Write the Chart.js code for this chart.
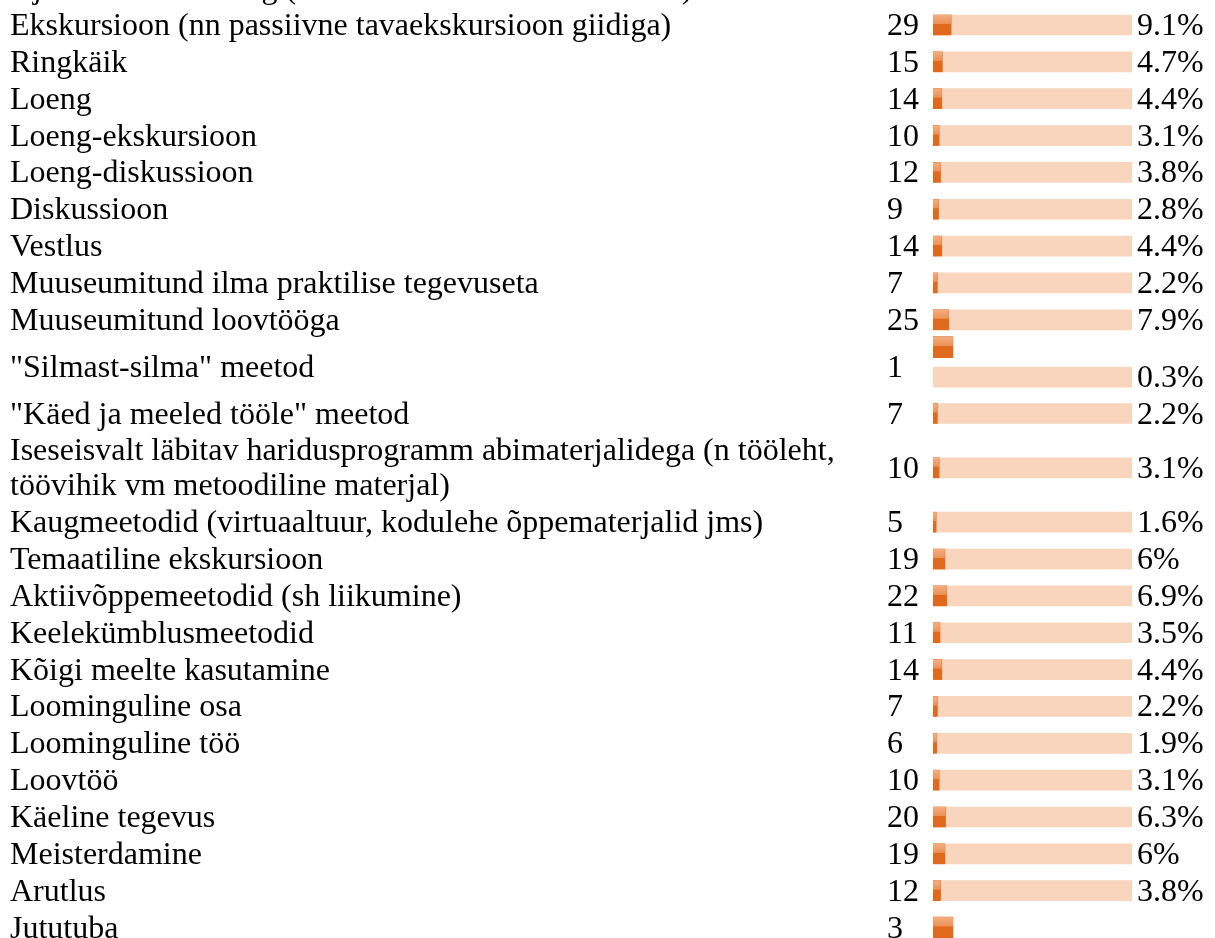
<!DOCTYPE html>
<html>
<head>
<meta charset="utf-8">
<script src="https://cdn.jsdelivr.net/npm/chart.js@4.4.1/dist/chart.umd.min.js"></script>
<style>
html, body { margin: 0; padding: 0; background: #ffffff; }
#wrap { position: relative; width: 1215px; height: 938px; }
</style>
</head>
<body>
<div id="wrap"><canvas id="methodsChart"></canvas></div>
<script>
// first row is cut off at the top of the picture, only its descenders show
const methods = [
    'Ajalooline rollimäng (näitlemine muuseumi saalides)',
    'Ekskursioon (nn passiivne tavaekskursioon giidiga)',
    'Ringkäik',
    'Loeng',
    'Loeng-ekskursioon',
    'Loeng-diskussioon',
    'Diskussioon',
    'Vestlus',
    'Muuseumitund ilma praktilise tegevuseta',
    'Muuseumitund loovtööga',
    '"Silmast-silma" meetod',
    '"Käed ja meeled tööle" meetod',
    'Iseseisvalt läbitav haridusprogramm abimaterjalidega (n tööleht, töövihik vm metoodiline materjal)',
    'Kaugmeetodid (virtuaaltuur, kodulehe õppematerjalid jms)',
    'Temaatiline ekskursioon',
    'Aktiivõppemeetodid (sh liikumine)',
    'Keelekümblusmeetodid',
    'Kõigi meelte kasutamine',
    'Loominguline osa',
    'Loominguline töö',
    'Loovtöö',
    'Käeline tegevus',
    'Meisterdamine',
    'Arutlus',
    'Jututuba',
];
const counts = [null, 29, 15, 14, 10, 12, 9, 14, 7, 25, 1, 7, 10, 5, 19, 22, 11, 14, 7, 6, 10, 20, 19, 12, 3];
// last percentage is below the bottom edge of the picture
const percents = [null, 9.1, 4.7, 4.4, 3.1, 3.8, 2.8, 4.4, 2.2, 7.9, 0.3, 2.2, 3.1, 1.6, 6, 6.9, 3.5, 4.4, 2.2, 1.9, 3.1, 6.3, 6, 3.8, null];
const respondents = 319;

const FONT = '32px "Liberation Serif", "Times New Roman", serif';
const PITCH = 36.85;     // px of one ordinary table row
const LINE_GAP = 35;     // px between wrapped label lines
const LABEL_X = 10;
const LABEL_WIDTH = 860;
const COUNT_X = 887;
const TEXT_DROP = 10;    // baseline sits this far below the row centre
const TRACK = '#f8d5bc';
const FILL = '#e0691d';

function wrapLabel(ctx, text, maxWidth) {
    const words = text.split(' ');
    const lines = [];
    let line = '';
    words.forEach((word) => {
        const test = line ? `${line} ${word}` : word;
        if (line && ctx.measureText(test).width > maxWidth) {
            lines.push(line);
            line = word;
        } else {
            line = test;
        }
    });
    lines.push(line);
    return lines;
}

function buildRows() {
    const measure = document.createElement('canvas').getContext('2d');
    measure.font = FONT;
    let top = 0;
    return methods.map((label, i) => {
        const lines = wrapLabel(measure, label, LABEL_WIDTH);
        const fill = percents[i] != null ? percents[i] : (counts[i] != null ? counts[i] / respondents * 100 : null);
        const tiny = fill != null && fill < 1;
        // a tiny fill image is shown at full size and pushes its track onto a new line
        const stacked = tiny && percents[i] != null;
        const h = 1 + (lines.length - 1) * LINE_GAP / PITCH + (stacked ? 20 / PITCH : 0);
        const mid = top + h / 2;
        top += h;
        return {
            lines,
            fill,
            tiny,
            mid,
            trackY: stacked ? mid + 10.5 / PITCH : mid,
            fillY: stacked ? mid - 19.5 / PITCH : mid,
        };
    });
}

const rows = buildRows();

// lighter glossy top on the orange bars
const barGloss = {
    id: 'barGloss',
    afterDatasetsDraw(chart) {
        const { ctx } = chart;
        ctx.save();
        chart.data.datasets.forEach((ds, di) => {
            if (ds.label === 'track') {
                return;
            }
            chart.getDatasetMeta(di).data.forEach((bar) => {
                const { x, y, base, height } = bar.getProps(['x', 'y', 'base', 'height'], true);
                const left = Math.min(x, base);
                const w = Math.abs(x - base);
                const top = y - height / 2;
                const g = ctx.createLinearGradient(0, top, 0, top + height * 0.45);
                g.addColorStop(0, '#f2ae82');
                g.addColorStop(1, '#ec9156');
                ctx.fillStyle = g;
                ctx.fillRect(left, top, w, height * 0.45);
            });
        });
        ctx.restore();
    },
};

const tableText = {
    id: 'tableText',
    afterDraw(chart) {
        const { ctx, chartArea, scales: { y } } = chart;
        ctx.save();
        ctx.font = FONT;
        ctx.fillStyle = '#000000';
        ctx.textAlign = 'left';
        ctx.textBaseline = 'alphabetic';
        rows.forEach((row, i) => {
            const yMid = y.getPixelForValue(row.mid);
            const firstY = yMid - (row.lines.length - 1) * LINE_GAP / 2;
            row.lines.forEach((line, k) => {
                ctx.fillText(line, LABEL_X, firstY + k * LINE_GAP + TEXT_DROP);
            });
            if (counts[i] != null) {
                ctx.fillText(String(counts[i]), COUNT_X, yMid + TEXT_DROP);
            }
            if (percents[i] != null) {
                ctx.fillText(`${percents[i]}%`, chartArea.right + 5, y.getPixelForValue(row.trackY) + TEXT_DROP);
            }
        });
        ctx.restore();
    },
};

function initMethodsChart() {
    const canvas = document.getElementById('methodsChart');
    const yMin = rows[1].mid - 25 / PITCH;

    new Chart(canvas, {
        type: 'bar',
        data: {
            datasets: [
                {
                    label: 'track',
                    data: rows.filter((r, i) => percents[i] != null).map((r) => ({ x: 100, y: r.trackY })),
                    backgroundColor: TRACK,
                    barThickness: 20,
                    grouped: false,
                    order: 3,
                },
                {
                    label: 'share',
                    data: rows.filter((r) => r.fill != null && !r.tiny).map((r) => ({ x: r.fill, y: r.fillY })),
                    backgroundColor: FILL,
                    barThickness: 20,
                    grouped: false,
                    order: 1,
                },
                {
                    label: 'share (small)',
                    data: rows.filter((r) => r.tiny).map((r) => ({ x: r.fill, y: r.fillY })),
                    backgroundColor: FILL,
                    barThickness: 21,
                    minBarLength: 20,
                    grouped: false,
                    order: 1,
                },
            ],
        },
        options: {
            indexAxis: 'y',
            responsive: true,
            maintainAspectRatio: false,
            animation: false,
            events: [],
            layout: { padding: { left: 933, right: 83, top: 0, bottom: 0 } },
            plugins: {
                legend: { display: false },
                tooltip: { enabled: false },
            },
            scales: {
                x: { type: 'linear', min: 0, max: 100, display: false },
                y: {
                    type: 'linear',
                    reverse: true,
                    offset: false,
                    min: yMin,
                    max: yMin + 938 / PITCH,
                    display: false,
                },
            },
        },
        plugins: [barGloss, tableText],
    });
}

initMethodsChart();
</script>
</body>
</html>
